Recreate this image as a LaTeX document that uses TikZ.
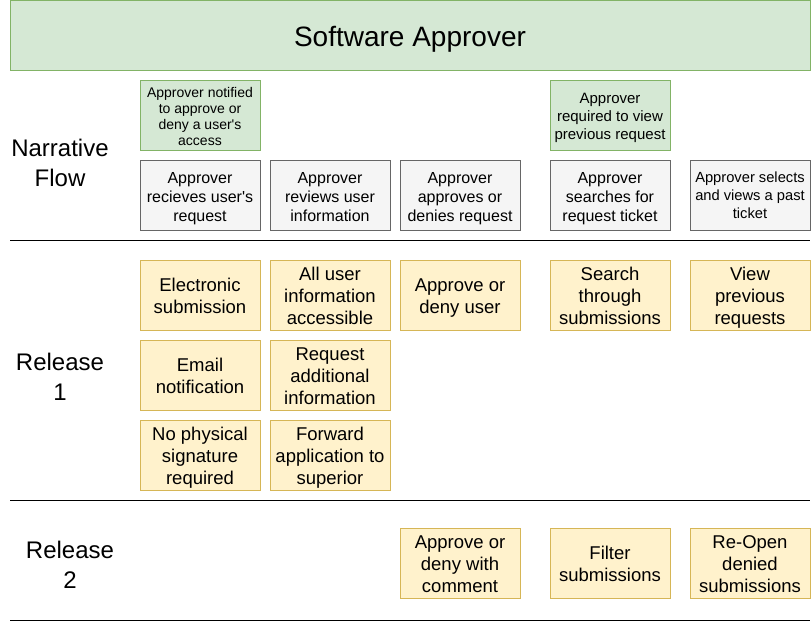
\documentclass[tikz,border=0pt]{standalone}
\usepackage{fontspec}
\setmainfont{Liberation Sans}
% \sink closes the last text line with a strut as deep as the font's descender
\newcommand{\sink}{\rule[-0.212em]{0pt}{0.212em}}
\begin{document}
\begin{tikzpicture}[x=1pt,y=-1pt,
  card/.style={draw, line width=0.9pt, minimum width=120pt, minimum height=70pt,
    inner sep=0pt, align=center, anchor=center, lower=0pt},
  % \lift opens the first text line with a strut of the given height
  lower/.style={execute at begin node={\def\lift{\rule{0pt}{#1}}}},
  greencard/.style={card, fill=gfill, draw=gline},
  graycard/.style={card, fill=kfill, draw=kline, font=\fontsize{16}{19}\selectfont, lower=17pt},
  yellowcard/.style={card, fill=yfill, draw=yline, font=\fontsize{18.5}{22}\selectfont, lower=17.5pt},
  lanelabel/.style={align=center, font=\fontsize{24}{30}\selectfont},
  divider/.style={draw=black, line width=1pt}]
\definecolor{gfill}{HTML}{D5E8D4}
\definecolor{gline}{HTML}{82B366}
\definecolor{kfill}{HTML}{F5F5F5}
\definecolor{kline}{HTML}{666666}
\definecolor{yfill}{HTML}{FFF2CC}
\definecolor{yline}{HTML}{D6B656}
\useasboundingbox (0,0) rectangle (812,622);

% header
\node[card, fill=gfill, draw=gline, minimum width=800pt, minimum height=70pt,
  font=\fontsize{28}{32}\selectfont, lower=28pt] (title) at (410,35.5) {\lift Software Approver};

% lane labels
\node[lanelabel] (lnarr) at (60,163) {Narrative\\Flow};
\node[lanelabel] (lrel1) at (60,377) {Release\\1};
\node[lanelabel] (lrel2) at (70,565) {Release\\2};

% narrative flow
\node[greencard, font=\fontsize{14}{16}\selectfont, lower=15.2pt] (g1) at (200,115.3)
  {\lift Approver notified\\to approve or\\deny a user\textquotesingle s\\access\sink};
\node[greencard, font=\fontsize{15}{18}\selectfont, lower=16.3pt] (g2) at (610,115.3)
  {\lift Approver\\required to view\\previous request\sink};

\node[graycard] (s1) at (200,195.3) {\lift Approver\\recieves user\textquotesingle s\\request\sink};
\node[graycard] (s2) at (330,195.3) {\lift Approver\\reviews user\\information\sink};
\node[graycard] (s3) at (460,195.3) {\lift Approver\\approves or\\denies request\sink};
\node[graycard] (s4) at (610,195.3) {\lift Approver\\searches for\\request ticket\sink};
\node[graycard, font=\fontsize{14.7}{18}\selectfont, lower=13.7pt] (s5) at (750,195.3)
  {\lift Approver selects\\and views a past\\ticket\sink};

% release 1
\node[yellowcard] (a1) at (200,295.3) {\lift Electronic\\submission\sink};
\node[yellowcard] (a2) at (330,295.3) {\lift All user\\information\\accessible\sink};
\node[yellowcard] (a3) at (460,295.3) {\lift Approve or\\deny user\sink};
\node[yellowcard] (a4) at (610,295.3) {\lift Search\\through\\submissions\sink};
\node[yellowcard] (a5) at (750,295.3) {\lift View\\previous\\requests\sink};
\node[yellowcard] (b1) at (200,375.3) {\lift Email\\notification\sink};
\node[yellowcard] (b2) at (330,375.3) {\lift Request\\additional\\information\sink};
\node[yellowcard] (c1) at (200,455.3) {\lift No physical\\signature\\required\sink};
\node[yellowcard] (c2) at (330,455.3) {\lift Forward\\application to\\superior\sink};

% release 2
\node[yellowcard] (d3) at (460,563.3) {\lift Approve or\\deny with\\comment\sink};
\node[yellowcard] (d4) at (610,563.3) {\lift Filter\\submissions\sink};
\node[yellowcard] (d5) at (750,563.3) {\lift Re-Open\\denied\\submissions\sink};

% lane dividers
\coordinate (l1a) at (10,240.5); \coordinate (l1b) at (810,240.5);
\coordinate (l2a) at (10,500.5); \coordinate (l2b) at (810,500.5);
\coordinate (l3a) at (10,620); \coordinate (l3b) at (810,620);
\draw[divider] (l1a) -- (l1b);
\draw[divider] (l2a) -- (l2b);
\draw[divider] (l3a) -- (l3b);
\end{tikzpicture}
\end{document}
